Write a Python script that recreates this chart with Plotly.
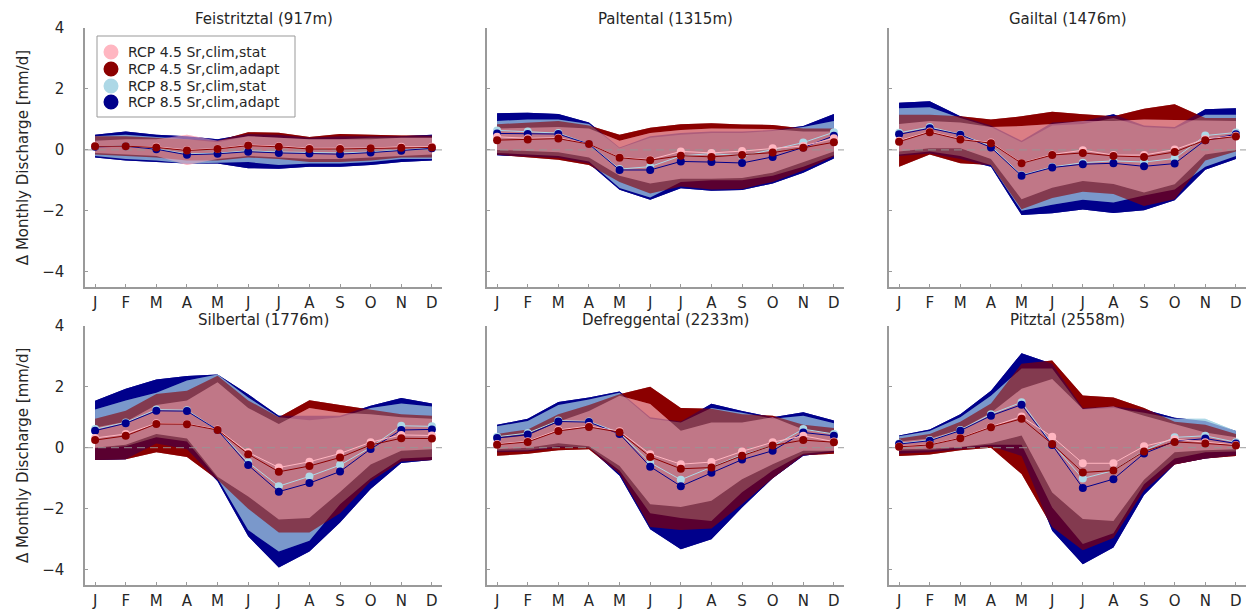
import plotly.graph_objects as go

# ---------------------------------------------------------------- data
MONTHS = ["J", "F", "M", "A", "M", "J", "J", "A", "S", "O", "N", "D"]
MONTH_NUM = list(range(1, 13))

SCENARIOS = ["RCP 4.5 Sr,clim,stat", "RCP 4.5 Sr,clim,adapt",
             "RCP 8.5 Sr,clim,stat", "RCP 8.5 Sr,clim,adapt"]

CATCHMENTS = ["Feistritztal (917m)", "Paltental (1315m)", "Gailtal (1476m)",
              "Silbertal (1776m)", "Defreggental (2233m)", "Pitztal (2558m)"]

# rows: 4.5 stat, 4.5 adapt, 8.5 stat, 8.5 adapt  (mm/d)
FEIS_MEAN = [[0.13, 0.12, 0.10, 0.00, 0.04, 0.16, 0.12, 0.05, 0.05, 0.06, 0.10, 0.10],
             [0.12, 0.12, 0.08, -0.02, 0.03, 0.14, 0.10, 0.03, 0.03, 0.05, 0.07, 0.08],
             [0.12, 0.13, 0.03, -0.13, -0.11, -0.03, -0.07, -0.09, -0.10, -0.07, 0.00, 0.07],
             [0.10, 0.12, 0.02, -0.16, -0.13, -0.06, -0.10, -0.12, -0.14, -0.09, -0.03, 0.05]]
FEIS_HI = [[0.30, 0.35, 0.35, 0.50, 0.30, 0.45, 0.40, 0.35, 0.35, 0.35, 0.40, 0.40],
           [0.45, 0.45, 0.40, 0.35, 0.30, 0.58, 0.56, 0.42, 0.52, 0.50, 0.47, 0.47],
           [0.45, 0.50, 0.42, 0.35, 0.25, 0.45, 0.40, 0.35, 0.35, 0.40, 0.40, 0.40],
           [0.50, 0.60, 0.50, 0.45, 0.35, 0.52, 0.50, 0.40, 0.45, 0.45, 0.45, 0.50]]
FEIS_LO = [[-0.10, -0.15, -0.20, -0.50, -0.30, -0.20, -0.25, -0.30, -0.30, -0.25, -0.20, -0.15],
           [-0.15, -0.20, -0.25, -0.35, -0.35, -0.25, -0.30, -0.40, -0.40, -0.35, -0.25, -0.25],
           [-0.20, -0.30, -0.35, -0.45, -0.42, -0.40, -0.50, -0.45, -0.45, -0.40, -0.30, -0.30],
           [-0.25, -0.35, -0.40, -0.45, -0.45, -0.60, -0.62, -0.55, -0.55, -0.50, -0.40, -0.35]]

PALT_MEAN = [[0.43, 0.38, 0.40, 0.19, -0.25, -0.32, -0.05, -0.10, -0.04, 0.05, 0.13, 0.38],
             [0.32, 0.34, 0.37, 0.19, -0.26, -0.34, -0.19, -0.23, -0.17, -0.09, 0.07, 0.25],
             [0.64, 0.60, 0.55, 0.19, -0.63, -0.55, -0.20, -0.12, -0.20, 0.01, 0.24, 0.58],
             [0.54, 0.52, 0.52, 0.19, -0.66, -0.66, -0.38, -0.40, -0.43, -0.23, 0.08, 0.46]]
PALT_HI = [[0.70, 0.72, 0.75, 0.70, 0.30, 0.55, 0.65, 0.70, 0.68, 0.68, 0.60, 0.60],
           [0.84, 0.90, 0.95, 0.80, 0.50, 0.73, 0.84, 0.87, 0.83, 0.82, 0.70, 0.70],
           [0.95, 1.00, 1.00, 0.85, 0.05, 0.40, 0.50, 0.55, 0.55, 0.62, 0.75, 0.95],
           [1.20, 1.22, 1.18, 0.90, 0.08, 0.45, 0.55, 0.60, 0.60, 0.65, 0.78, 1.18]]
PALT_LO = [[0.00, -0.03, -0.08, -0.25, -0.85, -1.10, -0.95, -0.95, -0.92, -0.75, -0.40, -0.05],
           [-0.16, -0.25, -0.32, -0.50, -1.05, -1.43, -1.20, -1.30, -1.28, -1.05, -0.68, -0.22],
           [-0.10, -0.15, -0.20, -0.38, -1.25, -1.56, -1.05, -1.00, -1.00, -0.85, -0.55, -0.18],
           [-0.18, -0.22, -0.27, -0.45, -1.31, -1.64, -1.26, -1.34, -1.32, -1.10, -0.75, -0.28]]

GAIL_MEAN = [[0.30, 0.60, 0.36, 0.24, -0.43, -0.15, -0.01, -0.17, -0.17, 0.01, 0.36, 0.46],
             [0.27, 0.58, 0.34, 0.22, -0.44, -0.17, -0.10, -0.20, -0.23, -0.07, 0.32, 0.44],
             [0.56, 0.75, 0.51, 0.12, -0.83, -0.56, -0.42, -0.36, -0.40, -0.28, 0.47, 0.57],
             [0.51, 0.71, 0.50, 0.08, -0.85, -0.58, -0.47, -0.44, -0.54, -0.45, 0.32, 0.51]]
GAIL_HI = [[0.85, 0.95, 0.90, 0.75, 0.78, 0.85, 0.95, 0.95, 1.00, 0.98, 0.95, 0.95],
           [1.15, 1.15, 1.10, 1.00, 1.10, 1.25, 1.17, 1.10, 1.35, 1.50, 1.05, 1.05],
           [1.37, 1.40, 1.05, 0.75, 0.25, 0.80, 0.85, 1.05, 0.75, 0.70, 1.15, 1.15],
           [1.55, 1.60, 1.10, 0.80, 0.30, 0.90, 0.95, 1.17, 0.80, 0.75, 1.33, 1.37]]
GAIL_LO = [[-0.05, 0.05, 0.05, -0.30, -1.62, -1.24, -1.02, -1.12, -1.40, -1.13, -0.15, 0.00],
           [-0.55, -0.15, -0.44, -0.50, -1.95, -1.58, -1.37, -1.45, -1.84, -1.62, -0.35, -0.05],
           [-0.15, -0.05, -0.20, -0.50, -2.00, -1.80, -1.64, -1.73, -1.50, -1.30, -0.55, -0.20],
           [-0.20, -0.12, -0.30, -0.55, -2.14, -2.08, -1.96, -2.07, -1.98, -1.65, -0.65, -0.30]]

SILB_MEAN = [[0.32, 0.45, 0.80, 0.78, 0.60, -0.15, -0.65, -0.46, -0.19, 0.18, 0.42, 0.40],
             [0.25, 0.39, 0.78, 0.77, 0.58, -0.21, -0.79, -0.60, -0.32, 0.09, 0.31, 0.30],
             [0.61, 0.83, 1.25, 1.23, 0.58, -0.48, -1.26, -0.94, -0.57, 0.01, 0.72, 0.70],
             [0.56, 0.80, 1.21, 1.20, 0.58, -0.57, -1.44, -1.16, -0.78, -0.04, 0.58, 0.60]]
SILB_HI = [[0.66, 0.85, 1.40, 1.55, 2.15, 1.30, 0.78, 1.30, 1.15, 1.10, 1.00, 0.95],
           [0.95, 1.21, 1.76, 1.87, 2.36, 1.55, 1.00, 1.56, 1.40, 1.25, 1.10, 1.05],
           [1.25, 1.55, 1.80, 2.20, 2.40, 1.65, 1.00, 0.90, 1.00, 1.30, 1.45, 1.35],
           [1.54, 1.93, 2.24, 2.35, 2.40, 1.75, 1.05, 1.05, 1.05, 1.38, 1.63, 1.45]]
SILB_LO = [[0.00, 0.10, 0.45, 0.30, -0.95, -1.60, -2.35, -2.30, -1.45, -0.55, -0.10, -0.05],
           [-0.40, -0.38, -0.15, -0.30, -1.05, -2.00, -2.78, -2.78, -2.15, -1.10, -0.45, -0.40],
           [-0.02, 0.05, 0.34, 0.20, -1.00, -2.70, -3.40, -3.05, -1.85, -1.00, -0.35, -0.30],
           [-0.40, -0.38, 0.14, -0.05, -1.10, -2.90, -3.93, -3.40, -2.45, -1.35, -0.50, -0.40]]

DEFR_MEAN = [[0.12, 0.21, 0.58, 0.71, 0.54, -0.21, -0.54, -0.47, -0.12, 0.18, 0.39, 0.20],
             [0.10, 0.19, 0.55, 0.68, 0.51, -0.30, -0.69, -0.65, -0.26, 0.07, 0.25, 0.18],
             [0.36, 0.48, 0.89, 0.86, 0.49, -0.49, -1.05, -0.65, -0.23, 0.05, 0.61, 0.45],
             [0.32, 0.43, 0.86, 0.84, 0.45, -0.62, -1.26, -0.82, -0.39, -0.10, 0.50, 0.39]]
DEFR_HI = [[0.30, 0.40, 0.85, 1.20, 1.70, 1.43, 0.56, 0.83, 0.83, 1.00, 0.60, 0.45],
           [0.45, 0.60, 1.10, 1.40, 1.75, 2.00, 1.30, 1.28, 1.10, 1.05, 0.75, 0.65],
           [0.70, 0.88, 1.40, 1.58, 1.80, 0.95, 0.83, 1.30, 1.15, 0.95, 1.05, 0.80],
           [0.75, 0.95, 1.50, 1.65, 1.84, 1.00, 0.86, 1.44, 1.20, 1.00, 1.16, 0.89]]
DEFR_LO = [[-0.05, 0.00, 0.15, 0.05, -0.60, -1.85, -1.94, -1.74, -1.03, -0.54, -0.10, -0.10],
           [-0.26, -0.20, -0.08, -0.05, -0.85, -2.60, -2.70, -2.65, -1.85, -1.00, -0.25, -0.20],
           [-0.10, -0.08, 0.05, 0.00, -0.75, -2.15, -2.30, -2.40, -1.46, -0.75, -0.20, -0.10],
           [-0.15, -0.12, 0.00, 0.00, -0.92, -2.67, -3.33, -3.00, -1.96, -1.00, -0.26, -0.15]]

PITZ_MEAN = [[0.04, 0.10, 0.32, 0.69, 1.02, 0.36, -0.51, -0.51, 0.05, 0.28, 0.18, 0.09],
             [0.03, 0.09, 0.31, 0.67, 0.95, 0.12, -0.81, -0.75, -0.12, 0.19, 0.14, 0.07],
             [0.14, 0.25, 0.58, 1.10, 1.49, 0.12, -1.01, -0.75, -0.10, 0.34, 0.39, 0.18],
             [0.12, 0.23, 0.56, 1.05, 1.41, 0.09, -1.32, -1.03, -0.19, 0.21, 0.30, 0.14]]
PITZ_HI = [[0.20, 0.30, 0.60, 1.15, 1.93, 2.25, 1.27, 1.35, 1.05, 0.78, 0.50, 0.34],
           [0.30, 0.45, 0.85, 1.45, 2.75, 2.86, 1.71, 1.65, 1.30, 0.85, 0.75, 0.45],
           [0.38, 0.55, 1.00, 1.70, 2.60, 2.60, 1.25, 1.30, 1.15, 0.95, 0.95, 0.55],
           [0.40, 0.60, 1.10, 1.87, 3.10, 2.75, 1.30, 1.35, 1.25, 0.98, 0.88, 0.55]]
PITZ_LO = [[-0.05, -0.03, 0.02, 0.15, 0.40, -1.47, -2.34, -2.40, -1.05, -0.15, -0.08, -0.05],
           [-0.27, -0.22, -0.08, 0.00, -0.86, -2.60, -3.36, -2.96, -1.40, -0.55, -0.35, -0.27],
           [-0.10, -0.08, 0.00, 0.10, 0.10, -1.96, -3.16, -2.80, -1.20, -0.35, -0.15, -0.12],
           [-0.20, -0.15, -0.05, 0.05, -0.27, -2.72, -3.82, -3.27, -1.55, -0.54, -0.35, -0.25]]

PANEL_DATA = [(FEIS_MEAN, FEIS_LO, FEIS_HI), (PALT_MEAN, PALT_LO, PALT_HI),
              (GAIL_MEAN, GAIL_LO, GAIL_HI), (SILB_MEAN, SILB_LO, SILB_HI),
              (DEFR_MEAN, DEFR_LO, DEFR_HI), (PITZ_MEAN, PITZ_LO, PITZ_HI)]

# ---------------------------------------------------------------- style
W, H = 1246, 614
FONT = "DejaVu Sans"
TXT = "#262626"
AXC = "#9a9a9a"
COLORS = ["#ffb6c1", "#8b0000", "#add8e6", "#00008b"]
RGB = [(255, 182, 193), (139, 0, 0), (173, 216, 230), (0, 0, 139)]
BAND_ORDER = [3, 2, 1, 0]          # 8.5 adapt, 8.5 stat, 4.5 adapt, 4.5 stat
BAND_ALPHA = {3: 0.85, 2: 0.65, 1: 0.59, 0: 0.48}
LINE_ORDER = [2, 3, 0, 1]
X_RANGE = [0.67, 12.33]
Y_RANGE = [-4.5, 4]

# panel domains in pixels: (left, right) per column, (top, bottom) per row
COL_PX = [(85, 442), (487, 844), (889, 1246)]
ROW_PX = [(28, 287), (325.7, 585)]
TITLE_PX = [19, 320]

fig = go.Figure()


def rgba(i, a):
    r, g, b = RGB[i]
    return f"rgba({r},{g},{b},{a})"


for p, (mean, lo, hi) in enumerate(PANEL_DATA):
    ax = "" if p == 0 else str(p + 1)
    xa, ya = "x" + ax, "y" + ax
    poly_x = MONTH_NUM + MONTH_NUM[::-1]

    # solid base fill, then translucent overlay of each range band
    for alpha_pass in (False, True):
        for i in BAND_ORDER:
            fc = rgba(i, BAND_ALPHA[i]) if alpha_pass else rgba(i, 1)
            fig.add_trace(go.Scatter(
                x=poly_x, y=hi[i] + lo[i][::-1], xaxis=xa, yaxis=ya,
                fill="toself", fillcolor=fc, mode="lines",
                line=dict(width=0), hoverinfo="skip", showlegend=False))

    # zero reference line
    fig.add_trace(go.Scatter(
        x=X_RANGE, y=[0, 0], xaxis=xa, yaxis=ya, mode="lines",
        line=dict(color="rgba(150,150,150,0.75)", width=1.3, dash="8px,5px"),
        hoverinfo="skip", showlegend=False))

    for i in LINE_ORDER:
        fig.add_trace(go.Scatter(
            x=MONTH_NUM, y=mean[i], xaxis=xa, yaxis=ya,
            mode="lines+markers",
            line=dict(color=COLORS[i], width=1),
            marker=dict(color=COLORS[i], size=8),
            showlegend=False, name=SCENARIOS[i]))

    r, c = divmod(p, 3)
    x0, x1 = COL_PX[c]
    t0, t1 = ROW_PX[r]
    fig.update_layout({
        "xaxis" + ax: dict(
            domain=[x0 / W, x1 / W], range=X_RANGE, anchor=ya, automargin=False,
            tickmode="array", tickvals=MONTH_NUM, ticktext=MONTHS,
            ticks="inside", ticklen=3, tickcolor=AXC, tickwidth=1,
            showline=True, linecolor=AXC, linewidth=1.5,
            showgrid=False, zeroline=False, ticklabelstandoff=1,
            tickfont=dict(family=FONT, size=15, color=TXT)),
        "yaxis" + ax: dict(
            domain=[1 - t1 / H, 1 - t0 / H], range=Y_RANGE, anchor=xa, automargin=False,
            tickmode="array", tickvals=[-4, -2, 0, 2, 4],
            ticktext=["\u22124", "\u22122", "0", "2", "4"],
            showticklabels=(c == 0),
            ticks="inside", ticklen=3, tickcolor=AXC, tickwidth=1,
            showline=True, linecolor=AXC, linewidth=1.5,
            showgrid=False, zeroline=False, ticklabelstandoff=16,
            tickfont=dict(family=FONT, size=15, color=TXT),
            title=dict(text="\u0394 Monthly Discharge [mm/d]" if c == 0 else "",
                       font=dict(family=FONT, size=15, color=TXT), standoff=10)),
    })
    fig.add_annotation(
        text=CATCHMENTS[p], xref="paper", yref="paper",
        x=(x0 + x1) / 2 / W, y=1 - TITLE_PX[r] / H,
        xanchor="center", yanchor="middle", showarrow=False,
        font=dict(family=FONT, size=15, color=TXT))

# legend box drawn in pixel positions of the top-left panel
LEG_BOX = (97, 36, 295, 117)
LEG_ROWS = [52, 69, 86, 102]
LEG_MARK_X, LEG_TEXT_X, LEG_R = 111, 126, 7.5
fig.add_shape(type="rect", xref="paper", yref="paper",
              x0=LEG_BOX[0] / W, x1=LEG_BOX[2] / W,
              y0=1 - LEG_BOX[3] / H, y1=1 - LEG_BOX[1] / H,
              fillcolor="white", line=dict(color="#999999", width=1), layer="above")
for i, yr in enumerate(LEG_ROWS):
    fig.add_shape(type="circle", xref="paper", yref="paper",
                  x0=(LEG_MARK_X - LEG_R) / W, x1=(LEG_MARK_X + LEG_R) / W,
                  y0=1 - (yr + LEG_R) / H, y1=1 - (yr - LEG_R) / H,
                  fillcolor=COLORS[i], line=dict(width=0), layer="above")
    fig.add_annotation(text=SCENARIOS[i], xref="paper", yref="paper",
                       x=LEG_TEXT_X / W, y=1 - yr / H, xanchor="left", yanchor="middle",
                       showarrow=False, font=dict(family=FONT, size=14, color=TXT))

fig.update_layout(
    width=W, height=H, margin=dict(l=0, r=0, t=0, b=0, autoexpand=False),
    paper_bgcolor="white", plot_bgcolor="white", showlegend=False,
    font=dict(family=FONT, size=15, color=TXT),
)

fig.write_html("out.html")
